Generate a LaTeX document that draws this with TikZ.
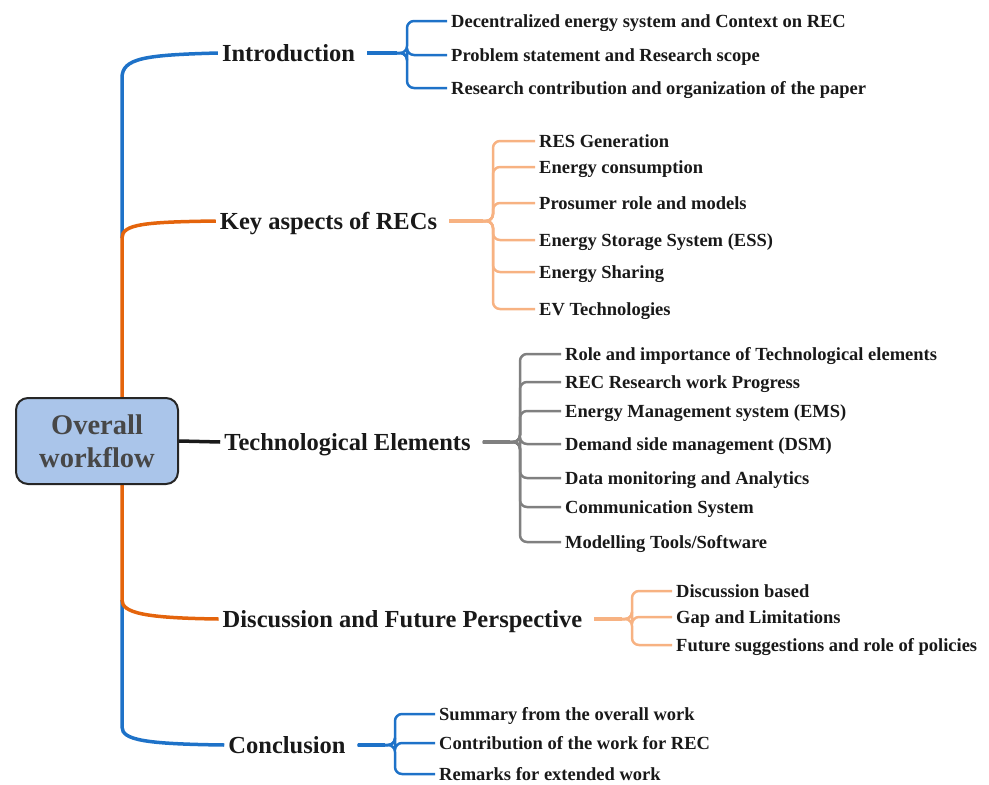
\documentclass[tikz,border=0pt]{standalone}
\usepackage{fontspec}
\setmainfont{Liberation Serif}

\definecolor{intblue}{RGB}{30,114,200}
\definecolor{keyorange}{RGB}{228,100,12}
\definecolor{peach}{RGB}{247,178,130}
\definecolor{techgray}{RGB}{128,128,128}
\definecolor{rootfill}{RGB}{170,197,234}

\tikzset{
  rootbox/.style={draw=black!85, line width=2pt, fill=rootfill, rounded corners=12pt,
    minimum width=162pt, minimum height=86pt, align=center,
    font=\fontsize{28.5}{33}\selectfont\bfseries, text=black!72},
  mainlbl/.style={font=\fontsize{24.5}{28}\selectfont\bfseries, text=black!90,
    inner sep=4pt, text height=16pt, text depth=0pt},
  subitem/.style={anchor=west, font=\fontsize{18.5}{22}\selectfont\bfseries, text=black!90,
    inner sep=4pt, text height=12pt, text depth=0pt},
  trunk/.style={line width=3.5pt},
  brace/.style={line width=2.5pt, rounded corners=7pt, shorten <=8pt},
  stemline/.style={line width=3.5pt, shorten <=8pt, shorten >=10pt},
}

\begin{document}
\begin{tikzpicture}[x=1pt,y=-1pt]
\useasboundingbox (0,0) rectangle (989,785);

% main branches
\node[mainlbl] (intro) at (288.5,53) {Introduction};
\node[mainlbl] (keyasp) at (328.5,221) {Key aspects of RECs};
\node[mainlbl] (tech) at (347.5,442) {Technological Elements};
\node[mainlbl] (disc) at (402.5,619) {Discussion and Future Perspective};
\node[mainlbl] (concl) at (287,745) {Conclusion};

% trunk
\coordinate (t-top) at (122,78);
\coordinate (t-key) at (122,238);
\coordinate (t-disc) at (122,600);
\coordinate (t-end) at (122,727);
\draw[trunk, intblue] (intro.west) .. controls (145,55) and (122,58) .. (t-top) -- (t-key);
\draw[trunk, intblue] (t-disc) -- (t-end) .. controls (122,740) and (145,744) .. (concl.west);
\draw[trunk, keyorange] (keyasp.west) .. controls (145,222) and (122,224) .. (t-key) -- (t-disc)
  .. controls (122,613) and (145,618) .. (disc.west);

\node[rootbox] (root) at (97,441) {Overall\\workflow};
\draw[line width=3.5pt, black!90] (root.east) -- (tech.west);

% Introduction
\coordinate (intro-s) at (407,53);
\draw[stemline, intblue] (intro.east) -- (intro-s);
\foreach \i/\y/\t in {1/21/{Decentralized energy system and Context on REC},
    2/55/{Problem statement and Research scope},
    3/88/{Research contribution and organization of the paper}}{
  \node[subitem] (intro-\i) at (447,\y) {\t};
  \draw[brace, intblue] (intro.east) -- (intro-s) |- (intro-\i.west);
}

% Key aspects
\coordinate (keyasp-s) at (493,221);
\draw[stemline, peach] (keyasp.east) -- (keyasp-s);
\foreach \i/\y/\t in {1/141/{RES Generation}, 2/167/{Energy consumption},
    3/203/{Prosumer role and models}, 4/240/{Energy Storage System (ESS)},
    5/272/{Energy Sharing}, 6/309/{EV Technologies}}{
  \node[subitem] (keyasp-\i) at (535,\y) {\t};
  \draw[brace, peach] (keyasp.east) -- (keyasp-s) |- (keyasp-\i.west);
}

% Technological elements
\coordinate (tech-s) at (520,442);
\draw[stemline, techgray] (tech.east) -- (tech-s);
\foreach \i/\y/\t in {1/354/{Role and importance of Technological elements},
    2/382/{REC Research work Progress}, 3/411/{Energy Management system (EMS)},
    4/444/{Demand side management (DSM)}, 5/478/{Data monitoring and Analytics},
    6/507/{Communication System}, 7/542/{Modelling Tools/Software}}{
  \node[subitem] (tech-\i) at (561,\y) {\t};
  \draw[brace, techgray] (tech.east) -- (tech-s) |- (tech-\i.west);
}

% Discussion
\coordinate (disc-s) at (632,619);
\draw[stemline, peach] (disc.east) -- (disc-s);
\foreach \i/\y/\t in {1/591/{Discussion based}, 2/617/{Gap and Limitations},
    3/645/{Future suggestions and role of policies}}{
  \node[subitem] (disc-\i) at (672,\y) {\t};
  \draw[brace, peach] (disc.east) -- (disc-s) |- (disc-\i.west);
}

% Conclusion
\coordinate (concl-s) at (395,745);
\draw[stemline, intblue] (concl.east) -- (concl-s);
\foreach \i/\y/\t in {1/714/{Summary from the overall work}, 2/743/{Contribution of the work for REC},
    3/774/{Remarks for extended work}}{
  \node[subitem] (concl-\i) at (435,\y) {\t};
  \draw[brace, intblue] (concl.east) -- (concl-s) |- (concl-\i.west);
}
\end{tikzpicture}
\end{document}
